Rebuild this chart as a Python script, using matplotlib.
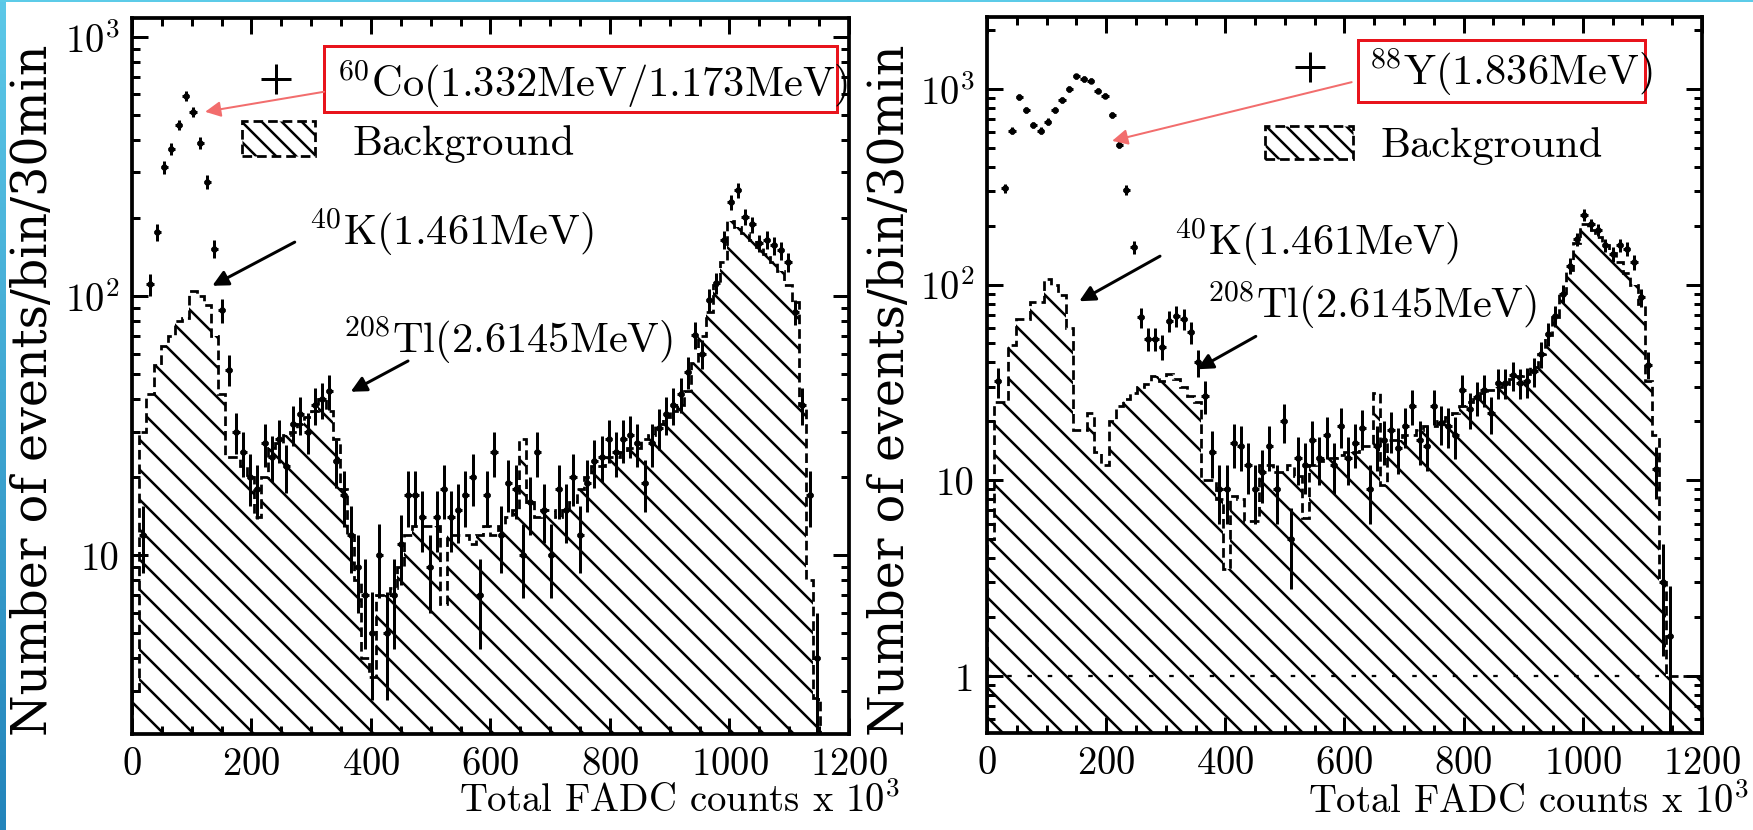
import numpy as np
import matplotlib
matplotlib.use("Agg")
import matplotlib.pyplot as plt
from matplotlib.patches import Rectangle
from matplotlib.colors import LinearSegmentedColormap
from matplotlib.ticker import MultipleLocator, LogLocator, FuncFormatter, NullFormatter

plt.rcParams['font.family'] = 'cmr10'
plt.rcParams['mathtext.fontset'] = 'cm'
plt.rcParams['axes.unicode_minus'] = False
plt.rcParams['axes.formatter.use_mathtext'] = True
plt.rcParams['hatch.linewidth'] = 1.0

DPI = 180

# 100 bins of 12k FADC counts
edges = np.arange(0, 1201, 12)
centers = edges[:-1] + 6
nan = np.nan

# 60Co run
co_counts = [
    nan, 12, 111, 177, 315, 370, 457, 593, 515, 390,
    276, 152, 88, 52, 30, 25, 20, 18, 27, 24,
    28, 22, 32, 35, 30, 38, 40, 43, 23, 17,
    12, 9, 7, 5, 10, 5, 7, 11, 17, 17,
    14, 9, 14, 18, 14, 15, 17, 20, 7, 17,
    25, 12, 19, 18, 10, 16, 25, 15, 10, 18,
    15, 20, 12, 19, 23, 24, 28, 25, 28, 29,
    27, 19, 27, 31, 35, 38, 42, 51, 71, 60,
    97, 112, 165, 231, 256, 202, 189, 160, 165, 157,
    150, 135, 87, 38, 17, 4, nan, nan, nan, nan,
]
co_background = [
    3, 30, 42, 54, 64, 70, 80, 82, 105, 100,
    92, 70, 42, 24, 24, 22, 20, 14, 20, 26,
    27, 29, 30, 32, 34, 36, 40, 36, 28, 18,
    12, 8, 4, 3.4, 7, 7, 7.5, 9, 12, 13,
    13, 13, 13, 6.5, 12, 12, 12, 11, 12, 13,
    12, 13, 14, 15, 28, 16, 14, 15, 15, 14,
    15, 16, 18, 20, 22, 22, 24, 24, 25, 26,
    26, 28, 29, 32, 34, 36, 38, 43, 55, 70,
    87, 110, 135, 195, 185, 175, 165, 155, 145, 135,
    125, 110, 95, 38, 8, 2.8, 0, 0, 0, 0,
]

# 88Y run
y_counts = [
    nan, 32, 310, 612, 913, 781, 655, 612, 681, 781,
    879, 1000, 1160, 1125, 1100, 980, 925, 736, 520, 305,
    155, 68, 53, 53, 48, 65, 69, 67, 57, 40,
    27, 14, 9, 9, 15.5, 15, 12, 9, 11, 15,
    9, 20, 5, 13, 12, 16, 13, 17, 12, 19,
    13, 15.5, 18.5, 9, 15, 16, 18, 14.6, 19, 24,
    16, 15, 24, 19.5, 19, 17, 29, 23, 26.5, 29,
    22, 31.5, 31.5, 34.5, 31.5, 32, 36, 44, 56, 69,
    90, 125, 170, 227, 203, 190, 159, 143, 159, 152,
    130, 86, 39, 11.4, 3, 1.6, nan, nan, nan, nan,
]
y_background = [
    5, 25, 25, 49, 67, 67, 81, 81, 107, 100,
    88, 60, 18, 18, 22, 14, 12, 20, 24, 26,
    28, 30, 31, 34, 32, 35, 33, 30, 27, 25,
    10, 10, 8, 3.5, 8.3, 8, 6.2, 6.2, 12, 12,
    11, 11, 12, 10.5, 6.4, 12, 12.5, 13, 13, 13.5,
    14, 14, 15, 15, 28, 9.5, 16, 16, 17, 17,
    18, 19, 19, 20, 21, 22, 24, 25, 26, 28,
    29, 30, 31, 33, 34, 35, 38, 44, 55, 68,
    91, 119, 163, 203, 190, 175, 160, 145, 130, 115,
    100, 80, 32, 17, 3, 1, 1, 1, 1, 1,
]


def log_label(v, pos):
    labels = {1: '1', 10: '10', 100: r'$10^{2}$', 1000: r'$10^{3}$'}
    return labels.get(int(round(v)), '')


def draw_panel(ax, counts, bkg, ylim):
    bkg = np.asarray(bkg, float)
    bkg = np.where(bkg > 0, bkg, 1e-3)
    ax.stairs(bkg, edges, baseline=1e-3, fill=True, facecolor='none',
              edgecolor='black', hatch='\\\\', linewidth=0)
    ax.stairs(bkg, edges, baseline=1e-3, color='black',
              linestyle=(0, (3.5, 1.8)), linewidth=1.1)

    c = np.asarray(counts, float)
    m = ~np.isnan(c)
    # Poisson errors on the counts
    ax.errorbar(centers[m], c[m], yerr=np.sqrt(c[m]), xerr=6, fmt='o', ms=1.6,
                color='black', elinewidth=1.2, capsize=0)

    ax.set_yscale('log')
    ax.set_xlim(0, 1200)
    ax.set_ylim(*ylim)
    ax.xaxis.set_major_locator(MultipleLocator(200))
    ax.xaxis.set_minor_locator(MultipleLocator(50))
    ax.yaxis.set_major_locator(LogLocator(10, numticks=10))
    ax.yaxis.set_minor_locator(LogLocator(10, subs=np.arange(2, 10), numticks=20))
    ax.yaxis.set_major_formatter(FuncFormatter(log_label))
    ax.yaxis.set_minor_formatter(NullFormatter())
    ax.tick_params(which='both', direction='in', top=True, right=True, width=1.2)
    ax.tick_params(which='major', length=6.4, labelsize=15.5, pad=5)
    ax.tick_params(which='minor', length=3.2)
    for s in ax.spines.values():
        s.set_linewidth(1.5)


def legend_block(ax, plus_xy, box, box_text, text_xy, arrow_tail, arrow_tip,
                 bkg_rect, bkg_text_xy):
    ax.plot(*plus_xy, marker='+', ms=12, mew=1.2, color='black',
            transform=ax.transAxes, clip_on=False)
    x0, y0, x1, y1 = box
    ax.add_patch(Rectangle((x0, y0), x1 - x0, y1 - y0, transform=ax.transAxes,
                           fill=False, edgecolor='#e8141c', lw=1.2, clip_on=False))
    ax.text(*text_xy, box_text, transform=ax.transAxes, fontsize=17,
            ha='left', va='baseline')
    ax.annotate('', xy=arrow_tip, xytext=arrow_tail, xycoords='axes fraction',
                arrowprops=dict(arrowstyle='-|>', color='#f26d6d', lw=0.8,
                                mutation_scale=13, shrinkA=0, shrinkB=0))
    x0, y0, x1, y1 = bkg_rect
    ax.add_patch(Rectangle((x0, y0), x1 - x0, y1 - y0, transform=ax.transAxes,
                           facecolor='white', edgecolor='black', hatch='\\\\\\',
                           lw=1.1, linestyle=(0, (3.5, 1.8)), clip_on=False))
    ax.text(*bkg_text_xy, 'Background', transform=ax.transAxes, fontsize=17,
            ha='left', va='baseline')


def line_note(ax, text, text_xy, tail, tip):
    ax.text(*text_xy, text, transform=ax.transAxes, fontsize=17,
            ha='left', va='baseline')
    ax.annotate('', xy=tip, xytext=tail, xycoords='axes fraction',
                arrowprops=dict(arrowstyle='-|>', color='black', lw=1.2,
                                mutation_scale=13, shrinkA=0, shrinkB=0))


fig = plt.figure(figsize=(1754 / DPI, 831 / DPI), dpi=DPI)
ax1 = fig.add_axes([132 / 1754, 96 / 831, 717 / 1754, 716 / 831])
ax2 = fig.add_axes([987 / 1754, 97 / 831, 715 / 1754, 716 / 831])

draw_panel(ax1, co_counts, co_background, (2.04, 1184))
draw_panel(ax2, y_counts, y_background, (0.51, 2333))
ax2.hlines(1, 0, 1128, colors='black', linestyles=(0, (2, 7)), lw=0.9)

legend_block(ax1, (0.201, 0.915), (0.268, 0.869, 0.983, 0.961),
             r'$^{60}$Co(1.332MeV/1.173MeV)', (0.286, 0.891),
             (0.268, 0.897), (0.102, 0.869),
             (0.153, 0.807, 0.255, 0.856), (0.307, 0.810))
legend_block(ax2, (0.452, 0.930), (0.519, 0.881, 0.920, 0.968),
             r'$^{88}$Y(1.836MeV)', (0.534, 0.906),
             (0.510, 0.909), (0.175, 0.827),
             (0.389, 0.802, 0.512, 0.848), (0.550, 0.806))

line_note(ax1, r'$^{40}$K(1.461MeV)', (0.247, 0.684), (0.227, 0.687), (0.112, 0.626))
line_note(ax1, r'$^{208}$Tl(2.6145MeV)', (0.294, 0.534), (0.385, 0.521), (0.305, 0.478))
line_note(ax2, r'$^{40}$K(1.461MeV)', (0.262, 0.669), (0.242, 0.666), (0.129, 0.603))
line_note(ax2, r'$^{208}$Tl(2.6145MeV)', (0.308, 0.581), (0.376, 0.554), (0.294, 0.508))

for ax, xr, yb in ((ax1, 1.071, -0.1075), (ax2, 1.066, -0.110)):
    ax.text(xr, yb, r'Total FADC counts x $10^{3}$', transform=ax.transAxes,
            fontsize=15.5, ha='right', va='baseline')

for xpix in (34, 891):
    fig.text(xpix / 1754, 1 - 390 / 831, 'Number of events/bin/30min',
             rotation=90, ha='center', va='center', fontsize=19,
             family='DejaVu Serif')

# page edge decoration
bar = fig.add_axes([0, 0, 6 / 1754, 1])
bar.imshow(np.linspace(0, 1, 256)[:, None], aspect='auto',
           cmap=LinearSegmentedColormap.from_list('edge', ['#5cc8e8', '#2384bb']))
bar.axis('off')
fig.add_artist(Rectangle((0, 1 - 3 / 831), 1, 3 / 831, transform=fig.transFigure,
                         color='#5ccbe8', lw=0))

fig.savefig('out.png', dpi=DPI)
